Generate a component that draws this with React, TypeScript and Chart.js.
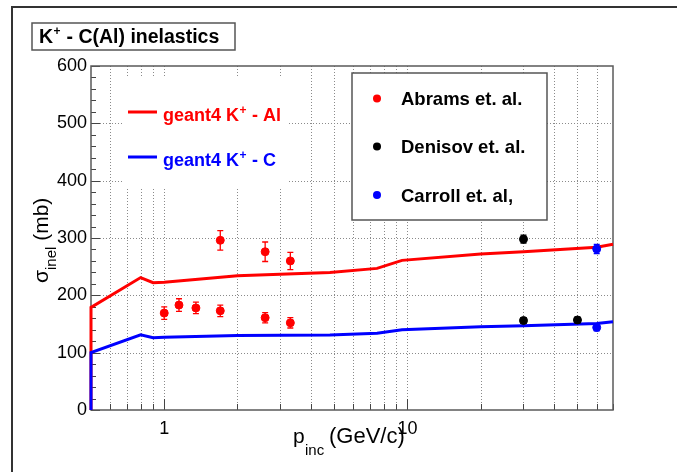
import React, { useEffect, useRef } from "react";
import { Chart, registerables } from "chart.js";
Chart.register(...registerables);

// geant4 curves
const AL_P = [0.5, 0.5, 0.8, 0.9, 1.0, 2.0, 4.8, 7.5, 9.5, 20, 30, 60, 70];
const AL_SIGMA = [0, 179, 231, 222, 223, 234, 240, 247, 261, 272, 276, 284, 289];
const C_P = [0.5, 0.5, 0.8, 0.9, 1.0, 2.0, 4.8, 7.5, 9.5, 20, 30, 60, 70];
const C_SIGMA = [0, 100, 131, 126, 127, 130, 131, 134, 140, 145, 147, 151, 154];

// data points
const ABRAMS_P = [1.0, 1.15, 1.35, 1.7, 2.6, 3.3, 1.7, 2.6, 3.3];
const ABRAMS_SIGMA = [169, 183, 178, 173, 161, 152, 296, 276, 260];
const ABRAMS_ERR = [11, 11, 10, 10, 9, 9, 17, 17, 15];
const DENISOV_P = [30, 30, 50];
const DENISOV_SIGMA = [298, 156, 157];
const DENISOV_ERR = [7, 5, 5];
const CARROLL_P = [60, 60];
const CARROLL_SIGMA = [281, 144];
const CARROLL_ERR = [8, 6];

// axes
const X_MIN = 0.5;
const X_MAX = 70;
const X_TICKS = [0.5, 0.6, 0.7, 0.8, 0.9, 1, 2, 3, 4, 5, 6, 7, 8, 9, 10, 20, 30, 40, 50, 60, 70];
const X_MAJOR = [1, 10];
const Y_MIN = 0;
const Y_MAX = 600;
const Y_STEP = 100;
const Y_MINOR_STEP = 20;

const TITLE = "C(Al) inelastics";
const LEGEND_LINES = [
  { label: "geant4 K", tail: " - Al", color: "#ff0000" },
  { label: "geant4 K", tail: " - C", color: "#0000ff" },
];
const LEGEND_POINTS = [
  { label: "Abrams et. al.", color: "#ff0000" },
  { label: "Denisov et. al.", color: "#000000" },
  { label: "Carroll et. al,", color: "#0000ff" },
];

const FONT = "'Liberation Sans', Arial, Helvetica, sans-serif";

const zip = (xs: number[], ys: number[]) => xs.map((x, i) => ({ x, y: ys[i] }));

const decorPlugin = {
  id: "decor",
  beforeDatasetsDraw(chart: any) {
    const { ctx, chartArea: a, scales } = chart;
    const xs = scales.x;
    const ys = scales.y;
    ctx.save();
    // dotted grid
    ctx.strokeStyle = "#8a8a8a";
    ctx.lineWidth = 1;
    ctx.setLineDash([1, 2]);
    X_TICKS.forEach((v) => {
      if (v <= X_MIN || v >= X_MAX) return;
      const px = Math.round(xs.getPixelForValue(v)) + 0.5;
      ctx.beginPath();
      ctx.moveTo(px, a.top);
      ctx.lineTo(px, a.bottom);
      ctx.stroke();
    });
    for (let v = Y_MIN + Y_STEP; v < Y_MAX; v += Y_STEP) {
      const py = Math.round(ys.getPixelForValue(v)) + 0.5;
      ctx.beginPath();
      ctx.moveTo(a.left, py);
      ctx.lineTo(a.right, py);
      ctx.stroke();
    }
    ctx.setLineDash([]);
    // inward ticks
    ctx.strokeStyle = "#444";
    ctx.lineWidth = 1;
    X_TICKS.forEach((v) => {
      const px = Math.round(xs.getPixelForValue(v)) + 0.5;
      const len = X_MAJOR.includes(v) ? 11 : 6;
      ctx.beginPath();
      ctx.moveTo(px, a.bottom);
      ctx.lineTo(px, a.bottom - len);
      ctx.stroke();
    });
    for (let v = Y_MIN; v <= Y_MAX; v += Y_MINOR_STEP) {
      const py = Math.round(ys.getPixelForValue(v)) + 0.5;
      const len = v % Y_STEP === 0 ? 9 : 5;
      ctx.beginPath();
      ctx.moveTo(a.left, py);
      ctx.lineTo(a.left + len, py);
      ctx.stroke();
    }
    // frame
    ctx.strokeStyle = "#5a5a5a";
    ctx.lineWidth = 1.5;
    ctx.strokeRect(a.left, a.top, a.right - a.left, a.bottom - a.top);
    ctx.restore();
  },
  afterDatasetsDraw(chart: any) {
    const { ctx, scales } = chart;
    const xs = scales.x;
    const ys = scales.y;
    ctx.save();
    // error bars
    chart.data.datasets.forEach((ds: any) => {
      if (!ds.errors) return;
      ctx.strokeStyle = ds.backgroundColor;
      ctx.lineWidth = 1.3;
      ds.data.forEach((pt: any, i: number) => {
        const e = ds.errors[i];
        const px = xs.getPixelForValue(pt.x);
        const top = ys.getPixelForValue(pt.y + e);
        const bot = ys.getPixelForValue(pt.y - e);
        ctx.beginPath();
        ctx.moveTo(px, top);
        ctx.lineTo(px, bot);
        ctx.moveTo(px - 3, top);
        ctx.lineTo(px + 3, top);
        ctx.moveTo(px - 3, bot);
        ctx.lineTo(px + 3, bot);
        ctx.stroke();
      });
    });
    ctx.restore();
  },
  afterDraw(chart: any) {
    const { ctx } = chart;
    ctx.save();
    // outer pad frame
    ctx.strokeStyle = "#333";
    ctx.lineWidth = 2;
    ctx.beginPath();
    ctx.moveTo(12, 480);
    ctx.lineTo(12, 7);
    ctx.lineTo(690, 7);
    ctx.stroke();

    // title box
    ctx.fillStyle = "#fff";
    ctx.fillRect(32, 23, 203, 27);
    ctx.strokeStyle = "#555";
    ctx.lineWidth = 1.5;
    ctx.strokeRect(32, 23, 203, 27);
    ctx.fillStyle = "#000";
    ctx.textBaseline = "alphabetic";
    ctx.textAlign = "left";
    ctx.font = `bold 19.5px ${FONT}`;
    let x = 39;
    ctx.fillText("K", x, 42.5);
    x += ctx.measureText("K").width;
    ctx.font = `bold 12px ${FONT}`;
    ctx.fillText("+", x + 0.5, 35);
    x += ctx.measureText("+").width + 1;
    ctx.font = `bold 19.5px ${FONT}`;
    ctx.fillText(" - " + TITLE, x, 42.5);

    // legend 1 (no border)
    ctx.fillStyle = "#fff";
    ctx.fillRect(122, 77, 165, 111);
    const l1y = [112, 157];
    LEGEND_LINES.forEach((l, i) => {
      const y = l1y[i];
      ctx.strokeStyle = l.color;
      ctx.lineWidth = 3;
      ctx.beginPath();
      ctx.moveTo(128, y);
      ctx.lineTo(157, y);
      ctx.stroke();
      ctx.fillStyle = l.color;
      ctx.font = `bold 18px ${FONT}`;
      let tx = 163;
      ctx.fillText(l.label, tx, y + 8.5);
      tx += ctx.measureText(l.label).width;
      ctx.font = `bold 12px ${FONT}`;
      ctx.fillText("+", tx + 0.5, y + 1.5);
      tx += ctx.measureText("+").width + 1;
      ctx.font = `bold 18px ${FONT}`;
      ctx.fillText(l.tail, tx, y + 8.5);
    });

    // legend 2 (boxed)
    ctx.fillStyle = "#fff";
    ctx.fillRect(352, 73, 195, 147);
    ctx.strokeStyle = "#555";
    ctx.lineWidth = 1.5;
    ctx.strokeRect(352, 73, 195, 147);
    const l2y = [98.5, 146.5, 195];
    LEGEND_POINTS.forEach((l, i) => {
      const y = l2y[i];
      ctx.fillStyle = l.color;
      ctx.beginPath();
      ctx.arc(377, y, 4, 0, Math.PI * 2);
      ctx.fill();
      ctx.fillStyle = "#000";
      ctx.font = `bold 18.5px ${FONT}`;
      ctx.fillText(l.label, 401, y + 6.5);
    });

    // x axis title
    ctx.fillStyle = "#000";
    ctx.font = `21px ${FONT}`;
    ctx.fillText("p", 293, 443);
    ctx.font = `15px ${FONT}`;
    ctx.fillText("inc", 305, 455);
    ctx.font = `22px ${FONT}`;
    ctx.fillText("(GeV/c)", 329, 443);

    // y axis title
    ctx.translate(48, 283);
    ctx.rotate(-Math.PI / 2);
    ctx.font = `21px ${FONT}`;
    ctx.fillText("σ", 0, 0);
    let yx = ctx.measureText("σ").width;
    ctx.font = `15px ${FONT}`;
    ctx.fillText("inel", yx, 8);
    yx += ctx.measureText("inel").width;
    ctx.font = `21px ${FONT}`;
    ctx.fillText(" (mb)", yx, 0);
    ctx.restore();
  },
};

export default function App() {
  const ref = useRef<HTMLCanvasElement | null>(null);
  useEffect(() => {
    document.body.style.margin = "0";
    const canvas = ref.current;
    if (!canvas) return;
    const chart = new Chart(canvas, {
      type: "scatter",
      data: {
        datasets: [
          {
            label: "Abrams et. al.",
            data: zip(ABRAMS_P, ABRAMS_SIGMA),
            errors: ABRAMS_ERR,
            backgroundColor: "#ff0000",
            borderColor: "#ff0000",
            pointRadius: 4,
            showLine: false,
            clip: false,
          } as any,
          {
            label: "Denisov et. al.",
            data: zip(DENISOV_P, DENISOV_SIGMA),
            errors: DENISOV_ERR,
            backgroundColor: "#000000",
            borderColor: "#000000",
            pointRadius: 4,
            showLine: false,
            clip: false,
          } as any,
          {
            label: "Carroll et. al,",
            data: zip(CARROLL_P, CARROLL_SIGMA),
            errors: CARROLL_ERR,
            backgroundColor: "#0000ff",
            borderColor: "#0000ff",
            pointRadius: 4,
            showLine: false,
            clip: false,
          } as any,
          {
            label: "geant4 K+ - C",
            data: zip(C_P, C_SIGMA),
            borderColor: "#0000ff",
            backgroundColor: "#0000ff",
            borderWidth: 3,
            pointRadius: 0,
            showLine: true,
            tension: 0,
            clip: false,
          } as any,
          {
            label: "geant4 K+ - Al",
            data: zip(AL_P, AL_SIGMA),
            borderColor: "#ff0000",
            backgroundColor: "#ff0000",
            borderWidth: 3,
            pointRadius: 0,
            showLine: true,
            tension: 0,
            clip: false,
          } as any,
        ],
      },
      options: {
        animation: false,
        responsive: false,
        devicePixelRatio: 1,
        layout: { padding: { top: 66, right: 64, left: 0, bottom: 0 } },
        plugins: {
          legend: { display: false },
          title: { display: false },
          tooltip: { enabled: false },
        },
        scales: {
          x: {
            type: "logarithmic",
            min: X_MIN,
            max: X_MAX,
            grid: { display: false, drawTicks: false, tickLength: 0 },
            border: { display: false },
            afterBuildTicks: (s: any) => {
              s.ticks = X_TICKS.map((v) => ({ value: v }));
            },
            afterFit: (s: any) => {
              s.height = 62;
            },
            ticks: {
              autoSkip: false,
              maxRotation: 0,
              minRotation: 0,
              padding: 8,
              color: "#000",
              font: { family: FONT, size: 18 },
              callback: (v: any) => (X_MAJOR.includes(Number(v)) ? String(v) : ""),
            },
          },
          y: {
            type: "linear",
            min: Y_MIN,
            max: Y_MAX,
            grid: { display: false, drawTicks: false, tickLength: 0 },
            border: { display: false },
            afterFit: (s: any) => {
              s.width = 91;
            },
            ticks: {
              stepSize: Y_STEP,
              padding: 4,
              color: "#000",
              font: { family: FONT, size: 18 },
            },
          },
        },
      } as any,
      plugins: [decorPlugin],
    });
    return () => chart.destroy();
  }, []);
  return (
    <div style={{ width: 677, height: 472, background: "#fff" }}>
      <canvas ref={ref} width={677} height={472} style={{ display: "block" }} />
    </div>
  );
}
